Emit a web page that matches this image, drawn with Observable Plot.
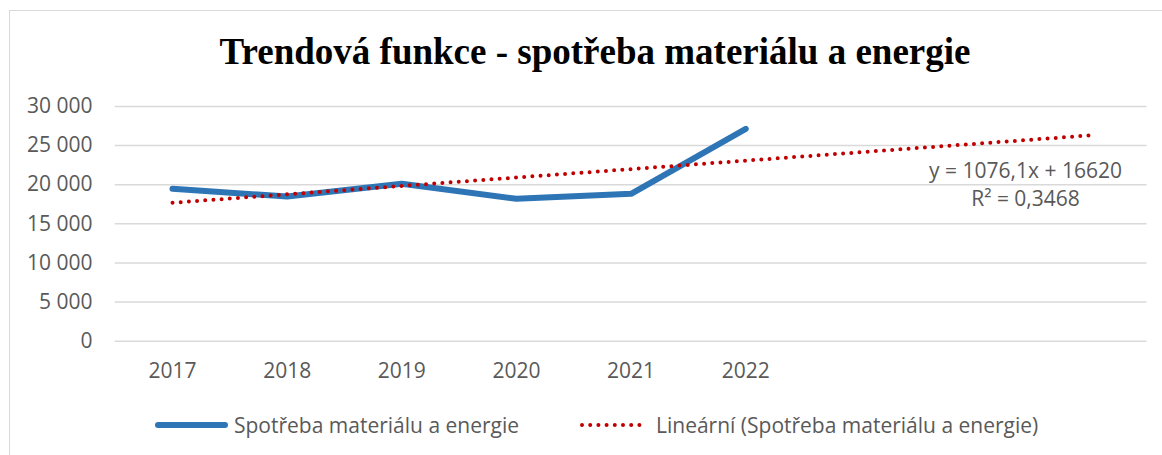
<!DOCTYPE html>
<html><head><meta charset="utf-8">
<script src="https://cdn.jsdelivr.net/npm/d3@7"></script>
<script src="https://cdn.jsdelivr.net/npm/@observablehq/plot@0.6"></script>
<style>
html,body{margin:0;padding:0;background:#fff;overflow:hidden;width:1162px;height:455px;}
#frame{position:absolute;left:9px;top:10px;width:1200px;height:500px;border:1px solid #d9d9d9;box-sizing:border-box;}
#wrap{position:absolute;left:0;top:0;width:1162px;}
#title{height:80px;box-sizing:border-box;padding-top:33px;padding-left:28px;text-align:center;font-family:"Liberation Serif","Times New Roman",serif;font-weight:bold;font-size:37px;line-height:37px;color:#000;white-space:nowrap;overflow:visible;}
#chart svg{display:block;}
#legend{position:relative;height:55px;font-family:"Open Sans",sans-serif;font-size:21px;color:#595959;}
.item{position:absolute;top:11px;display:flex;align-items:center;height:28px;white-space:nowrap;}
.item svg{display:block;}
</style>
</head><body>
<div id="frame"></div>
<div id="wrap">
  <div id="title"></div>
  <div id="chart"></div>
  <div id="legend"></div>
</div>
<script>
const titleText = "Trendová funkce - spotřeba materiálu a energie";
const years = ["2017", "2018", "2019", "2020", "2021", "2022"];
const values = [19480, 18500, 20120, 18200, 18840, 27150];
const yTicks = [0, 5000, 10000, 15000, 20000, 25000, 30000];
const trendSlope = 1076.1;
const trendIntercept = 16620;
const rSquared = 0.3468;
const forecastPeriods = 3;
const seriesName = "Spotřeba materiálu a energie";
const trendName = "Lineární (Spotřeba materiálu a energie)";
const blue = "#2e75b6", red = "#c00000", grid = "#d9d9d9", textGray = "#595959";

document.getElementById("title").textContent = titleText;

const data = years.map((y, i) => ({x: i + 1, year: y, value: values[i]}));
const trendX = [1, years.length + forecastPeriods];
const trend = trendX.map(x => ({x, value: trendSlope * x + trendIntercept}));
const fmt = v => d3.format(",")(v).replace(/,/g, " ");
const dec = v => String(v).replace(".", ",");
const eqText = `y = ${dec(trendSlope)}x + ${trendIntercept}\nR² = ${dec(rSquared)}`;

const chart = Plot.plot({
  width: 1162, height: 320,
  marginLeft: 114.7, marginRight: 15.5, marginTop: 26, marginBottom: 59.3,
  x: {domain: [0.5, years.length + forecastPeriods + 0.5], label: null},
  y: {domain: [0, 30000], label: null},
  style: {fontFamily: "'Open Sans', sans-serif", fontSize: "21px", color: textGray, background: "transparent", overflow: "visible"},
  marks: [
    Plot.ruleY(yTicks, {stroke: grid, strokeWidth: 1.5}),
    Plot.axisY({ticks: yTicks, tickFormat: fmt, tickSize: 0, tickPadding: 22.7, fill: textGray, fontSize: 21, label: null}),
    Plot.axisX({ticks: data.map(d => d.x), tickFormat: x => years[x - 1], tickSize: 0, tickPadding: 22, fill: textGray, fontSize: 21, label: null}),
    Plot.line(data, {x: "x", y: "value", stroke: blue, strokeWidth: 6, strokeLinecap: "round", strokeLinejoin: "round"}),
    Plot.line(trend, {x: "x", y: "value", stroke: red, strokeWidth: 4, strokeDasharray: "0 8.2", strokeLinecap: "round"}),
    Plot.text([eqText], {frameAnchor: "top-right", dx: -121.5, dy: 77, text: d => d, textAnchor: "middle", lineAnchor: "middle", lineHeight: 1.33, fill: textGray, fontSize: 21})
  ]
});
document.getElementById("chart").appendChild(chart);

const legend = document.getElementById("legend");
const items = [
  {name: seriesName, left: 155, sw: 73, gap: 6, stroke: blue, width: 6, dash: null},
  {name: trendName, left: 580, sw: 66, gap: 10, stroke: red, width: 4, dash: "0 8.2"}
];
for (const it of items) {
  const div = document.createElement("div");
  div.className = "item";
  div.style.left = it.left + "px";
  const svg = d3.create("svg").attr("width", it.sw).attr("height", 10);
  svg.append("line").attr("x1", it.dash ? 2 : 3).attr("x2", it.sw - 3).attr("y1", 5).attr("y2", 5)
    .attr("stroke", it.stroke).attr("stroke-width", it.width).attr("stroke-linecap", "round")
    .attr("stroke-dasharray", it.dash);
  div.appendChild(svg.node());
  const span = document.createElement("span");
  span.style.marginLeft = it.gap + "px";
  span.textContent = it.name;
  div.appendChild(span);
  legend.appendChild(div);
}
</script>
</body></html>
